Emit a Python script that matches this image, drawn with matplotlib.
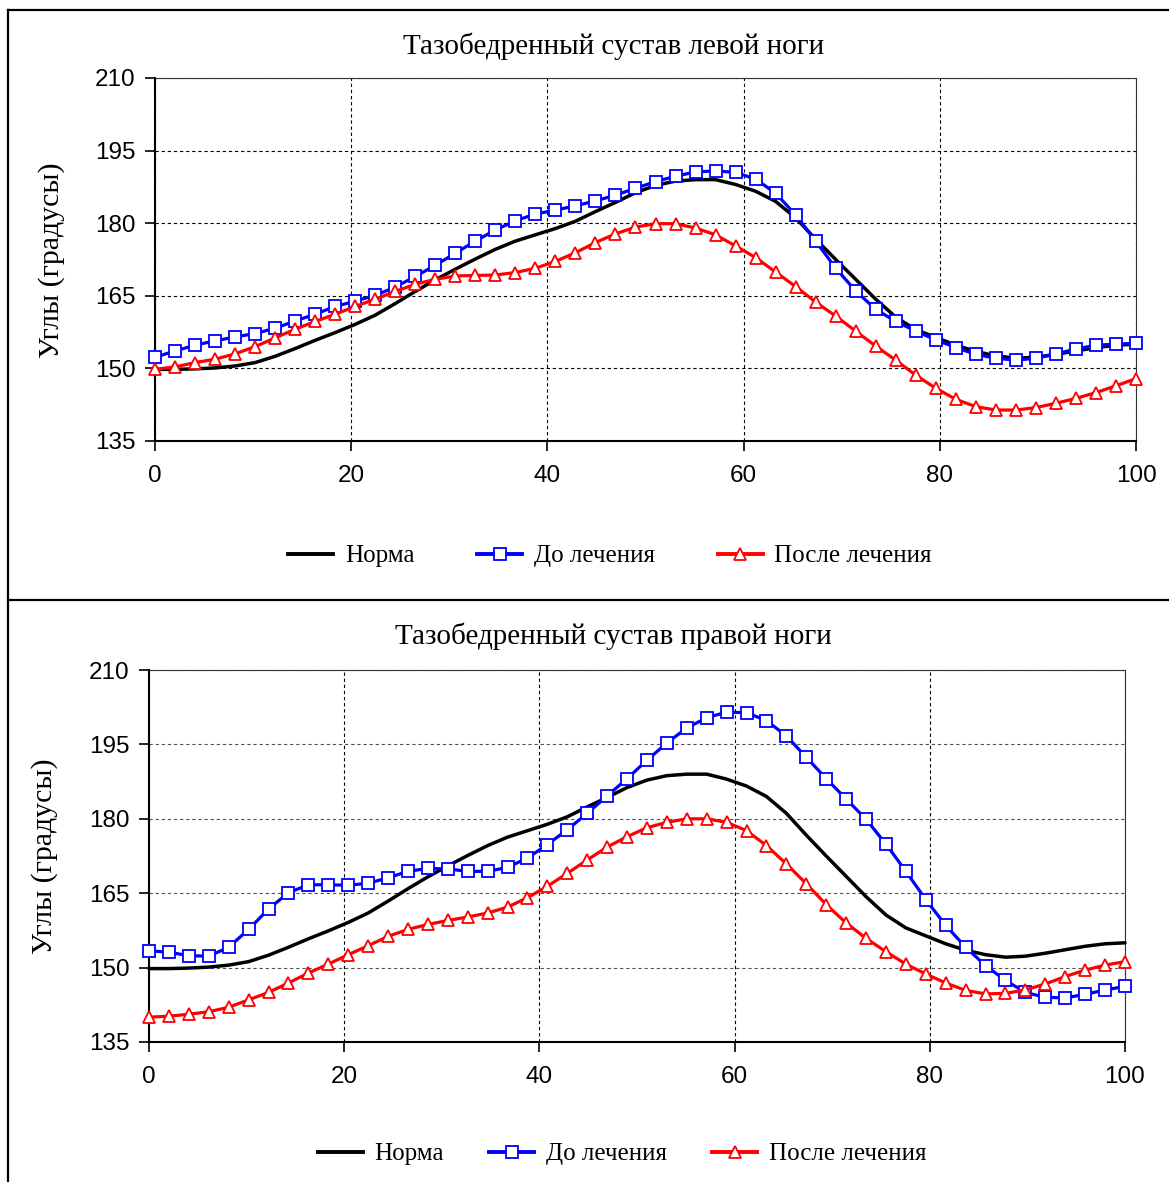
import numpy as np
import matplotlib
matplotlib.use("Agg")
import matplotlib.pyplot as plt
from matplotlib.lines import Line2D

# ---------------- data ----------------
# 50 samples over the gait cycle (0..100 %)
x = np.linspace(0, 100, 50)

norm = [149.8, 149.8, 149.9, 150.1, 150.5, 151.2, 152.5, 154.1, 155.8, 157.4,
        159.1, 161.0, 163.4, 165.9, 168.3, 170.5, 172.6, 174.6, 176.3, 177.6,
        178.9, 180.4, 182.4, 184.3, 186.3, 187.8, 188.7, 189.0, 189.0, 188.0,
        186.6, 184.5, 181.1, 176.7, 172.5, 168.4, 164.3, 160.6, 158.0, 156.4,
        154.8, 153.5, 152.6, 152.1, 152.3, 152.9, 153.6, 154.3, 154.8, 155.0]

left_before = [152.3, 153.6, 154.8, 155.7, 156.5, 157.2, 158.3, 159.8, 161.2, 162.8,
               163.9, 165.1, 166.8, 169.0, 171.3, 173.8, 176.3, 178.6, 180.5, 181.9,
               182.7, 183.6, 184.6, 185.8, 187.2, 188.6, 189.7, 190.6, 190.8, 190.5,
               189.1, 186.2, 181.7, 176.3, 170.7, 166.0, 162.2, 159.7, 157.7, 155.9,
               154.3, 152.9, 152.1, 151.7, 152.1, 153.0, 154.0, 154.8, 155.0, 155.2]

left_after = [149.8, 150.3, 151.2, 151.9, 153.0, 154.5, 156.3, 158.1, 159.7, 161.2,
              162.8, 164.3, 165.9, 167.4, 168.4, 169.1, 169.2, 169.3, 169.8, 170.7,
              172.1, 173.9, 176.0, 177.8, 179.2, 179.9, 179.9, 179.0, 177.6, 175.3,
              172.9, 169.9, 166.9, 163.7, 160.8, 157.7, 154.6, 151.7, 148.6, 145.9,
              143.6, 142.1, 141.4, 141.4, 141.9, 142.8, 143.8, 145.0, 146.4, 147.9]

right_before = [153.4, 153.1, 152.4, 152.3, 154.1, 157.7, 161.8, 165.1, 166.7, 166.7,
                166.6, 167.0, 168.1, 169.4, 170.0, 169.9, 169.4, 169.4, 170.2, 172.1,
                174.8, 177.8, 181.1, 184.6, 188.1, 191.8, 195.3, 198.3, 200.4, 201.5,
                201.4, 199.8, 196.7, 192.4, 188.1, 184.0, 179.9, 174.9, 169.4, 163.7,
                158.5, 154.1, 150.4, 147.4, 145.0, 144.0, 143.9, 144.6, 145.5, 146.2]

right_after = [140.0, 140.2, 140.6, 141.1, 142.0, 143.5, 145.0, 146.9, 148.9, 150.7,
               152.6, 154.4, 156.3, 157.7, 158.7, 159.5, 160.2, 161.0, 162.2, 164.1,
               166.4, 169.0, 171.7, 174.3, 176.4, 178.2, 179.3, 180.0, 180.0, 179.3,
               177.6, 174.6, 170.9, 166.9, 162.7, 159.0, 155.9, 153.2, 150.7, 148.7,
               146.9, 145.4, 144.7, 144.8, 145.5, 146.7, 148.2, 149.5, 150.5, 151.2]

series_labels = ["Норма", "До лечения", "После лечения"]
titles = ["Тазобедренный сустав левой ноги", "Тазобедренный сустав правой ноги"]
y_label = "Углы (градусы)"
x_ticks = [0, 20, 40, 60, 80, 100]
y_ticks = [135, 150, 165, 180, 195, 210]

# ---------------- layout ----------------
W, H = 1169, 1182
fig = plt.figure(figsize=(W / 100, H / 100), dpi=100)
SANS = "Liberation Sans"
SERIF = "Liberation Serif"


def fx(px):
    return px / W


def fy(py):
    return 1 - py / H


BLUE = "#0000FF"
RED = "#FF0000"


def panel(rect_px, title, title_xy, ylab_xy, legend_xy, colspace, before, after,
          hgrid_color):
    l, t, r, b = rect_px
    ax = fig.add_axes([fx(l), fy(b), fx(r) - fx(l), fy(t) - fy(b)])
    ax.plot(x, norm, color="black", lw=2.5, zorder=3, clip_on=False,
            solid_capstyle="round", solid_joinstyle="round")
    ax.plot(x, before, color=BLUE, lw=2.3, marker="s", ms=8, mfc="white",
            mec=BLUE, mew=1.3, zorder=4, clip_on=False)
    ax.plot(x, after, color=RED, lw=2.3, marker="^", ms=9, mfc="white",
            mec=RED, mew=1.3, zorder=5, clip_on=False)
    ax.set_xlim(0, 100)
    ax.set_ylim(135, 210)
    ax.set_xticks(x_ticks)
    ax.set_yticks(y_ticks)
    for lab in ax.get_xticklabels() + ax.get_yticklabels():
        lab.set_fontfamily(SANS)
    ax.tick_params(direction="out", length=7, width=1.2, labelsize=17.5,
                   colors="black")
    ax.tick_params(axis="x", pad=10)
    ax.tick_params(axis="y", pad=7)
    ax.xaxis.grid(True, color="black", lw=0.8, ls=(0, (3, 2.5)))
    ax.yaxis.grid(True, color=hgrid_color, lw=0.8, ls=(0, (3, 2.5)))
    ax.set_axisbelow(True)
    for s in ["left", "bottom"]:
        ax.spines[s].set_linewidth(1.5)
        ax.spines[s].set_color("black")
    for s in ["top", "right"]:
        ax.spines[s].set_linewidth(0.8)
        ax.spines[s].set_color("#333333")
    fig.text(fx(title_xy[0]), fy(title_xy[1]), title, family=SERIF,
             fontsize=21, ha="center", va="center")
    fig.text(fx(ylab_xy[0]), fy(ylab_xy[1]), y_label, family=SERIF,
             fontsize=21.5, ha="center", va="center", rotation=90)
    handles = [
        Line2D([], [], color="black", lw=2.8),
        Line2D([], [], color=BLUE, lw=2.8, marker="s", ms=8, mfc="white",
               mec=BLUE, mew=1.3),
        Line2D([], [], color=RED, lw=2.8, marker="^", ms=9, mfc="white",
               mec=RED, mew=1.3),
    ]
    fig.legend(handles, series_labels, loc="center",
               bbox_to_anchor=(fx(legend_xy[0]), fy(legend_xy[1])),
               ncol=3, frameon=False, prop={"family": SERIF, "size": 18},
               handlelength=1.8, handletextpad=0.48, columnspacing=colspace)
    return ax


panel((155, 78, 1136, 441), titles[0], (614, 46), (52, 260), (610, 556), 2.5,
      left_before, left_after, "black")
panel((149, 670, 1125, 1042), titles[1], (613, 636), (45, 856), (622, 1154), 1.8,
      right_before, right_after, "#555555")

# panel frames (chart-area borders)
lw_frame = 1.6
fig.add_artist(Line2D([fx(8), fx(1169)], [fy(10), fy(10)], color="black", lw=lw_frame))
fig.add_artist(Line2D([fx(8), fx(8)], [fy(10), fy(1182)], color="black", lw=lw_frame))
fig.add_artist(Line2D([fx(8), fx(1169)], [fy(600), fy(600)], color="black", lw=lw_frame))

fig.savefig("out.png", dpi=100)
